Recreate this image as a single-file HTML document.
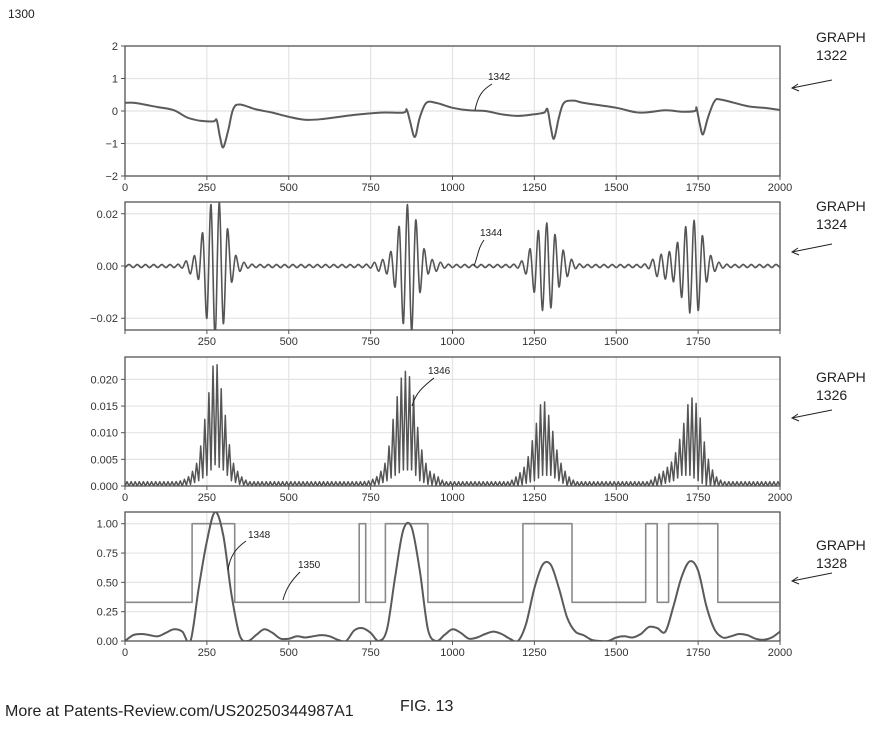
<!DOCTYPE html>
<html><head><meta charset="utf-8"><style>
body{margin:0;background:#fff;width:880px;height:727px;overflow:hidden;font-family:"Liberation Sans",sans-serif}
svg text{font-family:"Liberation Sans",sans-serif}
</style></head><body>
<svg id="fig" width="880" height="727"></svg>
<script>
// ---- data ----
const xTicks=[0,250,500,750,1000,1250,1500,1750,2000];
const p1X=[0,30,100,150,190,230,270,280,290,300,315,330,350,400,450,500,550,600,700,780,850,860,870,885,900,920,950,1000,1050,1100,1150,1200,1250,1280,1290,1300,1310,1325,1340,1370,1400,1500,1570,1650,1700,1740,1745,1755,1765,1780,1800,1820,1900,1950,2000];
const p1Y=[0.25,0.25,0.12,0.02,-0.2,-0.3,-0.32,-0.28,-0.8,-1.12,-0.6,0.05,0.2,0.05,-0.05,-0.18,-0.27,-0.25,-0.12,-0.05,-0.05,0.05,-0.3,-0.8,-0.2,0.25,0.25,0.1,0.02,0.0,-0.1,-0.15,-0.1,-0.05,0.05,-0.5,-0.85,-0.2,0.25,0.32,0.25,0.1,-0.05,0.02,-0.02,0.0,0.1,-0.4,-0.72,-0.2,0.3,0.35,0.15,0.1,0.03];
const p1Ticks=[2,1,0,-1,-2];
// panel 2 oscillation amplitude envelope, every 25 units
const p2Amp=[0.0006,0.0006,0.0006,0.0006,0.0006,0.0006,0.0006,0.0008,0.003,0.005,0.02,0.027,0.022,0.006,0.002,0.0008,0.0006,0.0006,0.0006,0.0006,0.0006,0.0006,0.0006,0.0006,0.0006,0.0006,0.0006,0.0006,0.0006,0.0006,0.0008,0.002,0.003,0.008,0.022,0.025,0.01,0.003,0.002,0.0008,0.0006,0.0006,0.0006,0.0006,0.0006,0.0006,0.0006,0.0006,0.0008,0.003,0.01,0.017,0.016,0.008,0.004,0.001,0.0006,0.0006,0.0006,0.0006,0.0006,0.0006,0.0006,0.0006,0.001,0.004,0.005,0.006,0.012,0.018,0.017,0.006,0.002,0.0008,0.0006,0.0006,0.0006,0.0006,0.0006,0.0006,0.0006];
const p2Ticks=[0.02,0,-0.02];
const p2TickLabels=["0.02","0.00","\u22120.02"];
// panel 3 upper/lower envelopes every 25 units
const p3Up=[0.0008,0.0008,0.0008,0.0008,0.0008,0.0008,0.0008,0.001,0.002,0.005,0.015,0.025,0.016,0.005,0.002,0.0008,0.0008,0.0008,0.0008,0.0008,0.0008,0.0008,0.0008,0.0008,0.0008,0.0008,0.0008,0.0008,0.0008,0.0008,0.001,0.002,0.005,0.015,0.022,0.02,0.008,0.003,0.002,0.0008,0.0008,0.0008,0.0008,0.0008,0.0008,0.0008,0.0008,0.0008,0.002,0.004,0.01,0.017,0.012,0.005,0.002,0.0008,0.0008,0.0008,0.0008,0.0008,0.0008,0.0008,0.0008,0.0008,0.0008,0.002,0.003,0.005,0.01,0.017,0.015,0.006,0.002,0.0008,0.0008,0.0008,0.0008,0.0008,0.0008,0.0008,0.0008];
const p3Low=[0,0,0,0,0,0,0,0,0.0003,0.001,0.002,0.004,0.003,0.001,0.0003,0,0,0,0,0,0,0,0,0,0,0,0,0,0,0,0,0.0003,0.001,0.002,0.003,0.003,0.001,0.0003,0,0,0,0,0,0,0,0,0,0,0,0.0005,0.001,0.002,0.002,0.001,0,0,0,0,0,0,0,0,0,0,0,0,0.0005,0.001,0.002,0.002,0.001,0,0,0,0,0,0,0,0,0,0];
const p3Ticks=[0.02,0.015,0.01,0.005,0];
const p3TickLabels=["0.020","0.015","0.010","0.005","0.000"];
// panel 4 smooth line every 25 units
const p4Line=[0.0,0.05,0.06,0.05,0.04,0.07,0.1,0.08,0.0,0.45,0.85,1.1,0.9,0.4,0.05,0.0,0.05,0.1,0.07,0.02,0.02,0.04,0.03,0.04,0.05,0.04,0.01,0.0,0.09,0.11,0.07,0.0,0.1,0.55,0.95,0.97,0.6,0.1,0.0,0.05,0.1,0.07,0.02,0.03,0.06,0.08,0.06,0.02,0.0,0.15,0.45,0.65,0.65,0.45,0.2,0.08,0.05,0.01,0.0,0.0,0.03,0.04,0.03,0.06,0.12,0.11,0.08,0.3,0.55,0.68,0.6,0.3,0.1,0.03,0.04,0.06,0.05,0.02,0.01,0.03,0.08];
const p4StepX=[0,205,335,715,735,795,925,1215,1365,1590,1625,1660,1810,2000];
const p4StepY=[0.33,1,0.33,1,0.33,1,0.33,1,0.33,1,0.33,1,0.33];
const p4Ticks=[1,0.75,0.5,0.25,0];
const p4TickLabels=["1.00","0.75","0.50","0.25","0.00"];

// ---- drawing ----
const NS="http://www.w3.org/2000/svg";
const svg=document.getElementById('fig');
function mk(tag,attrs,parent){const e=document.createElementNS(NS,tag);for(const k in attrs)e.setAttribute(k,attrs[k]);(parent||svg).appendChild(e);return e;}
const X0=125,X1=780;
const sx=v=>X0+(v/2000)*(X1-X0);
function interp(arr,x){const i=x/25;const a=Math.floor(i);const b=Math.min(a+1,arr.length-1);const t=i-a;return arr[a]*(1-t)+arr[b]*t;}

function panel(name,top,bot,ymin,ymax,yt,ytl,xtl){
  const g=mk('g',{});
  
  
  const sy=v=>bot-(v-ymin)/(ymax-ymin)*(bot-top);
  mk('rect',{x:X0,y:top,width:X1-X0,height:bot-top,fill:'#fff'},g);
  xTicks.forEach(t=>{mk('line',{x1:sx(t),x2:sx(t),y1:top,y2:bot,stroke:'#e4e4e4','stroke-width':1.2},g);});
  yt.forEach(t=>{mk('line',{x1:X0,x2:X1,y1:sy(t),y2:sy(t),stroke:'#e4e4e4','stroke-width':1.2},g);});
  mk('rect',{x:X0,y:top,width:X1-X0,height:bot-top,fill:'none',stroke:'#555','stroke-width':1.3},g);
  yt.forEach((t,i)=>{
    mk('line',{x1:X0-4,x2:X0,y1:sy(t),y2:sy(t),stroke:'#555'},g);
    const tx=mk('text',{x:X0-7,y:sy(t)+4,'text-anchor':'end','font-size':11,fill:'#333'},g);
    tx.textContent=ytl[i];
    
    
  });
  xTicks.forEach(t=>{
    mk('line',{x1:sx(t),x2:sx(t),y1:bot,y2:bot+4,stroke:'#555'},g);
    if(xtl.indexOf(t)<0)return;
    const tx=mk('text',{x:sx(t),y:bot+15,'text-anchor':'middle','font-size':11,fill:'#333'},g);
    tx.textContent=String(t);
    
    
  });
  const clip='c'+name;
  const cp=mk('clipPath',{id:clip},g);mk('rect',{x:X0,y:top,width:X1-X0,height:bot-top},cp);
  return {g,sy,clip};
}
function path(pts,p,stroke,w,name,smooth){
  let d;
  if(smooth){
    d='M'+pts[0][0].toFixed(1)+','+pts[0][1].toFixed(1);
    for(let i=0;i<pts.length-1;i++){
      const p0=pts[Math.max(i-1,0)],p1=pts[i],p2=pts[i+1],p3=pts[Math.min(i+2,pts.length-1)];
      const c1=[p1[0]+(p2[0]-p0[0])/6,p1[1]+(p2[1]-p0[1])/6],c2=[p2[0]-(p3[0]-p1[0])/6,p2[1]-(p3[1]-p1[1])/6];
      d+='C'+c1[0].toFixed(1)+','+c1[1].toFixed(1)+' '+c2[0].toFixed(1)+','+c2[1].toFixed(1)+' '+p2[0].toFixed(1)+','+p2[1].toFixed(1);
    }
  } else d='M'+pts.map(q=>q[0].toFixed(1)+','+q[1].toFixed(1)).join('L');
  const e=mk('path',{d:d,fill:'none',stroke:stroke,'stroke-width':w,'stroke-linejoin':'round','clip-path':'url(#'+p.clip+')'},p.g);
  
  
}
// panel 1
const P1=panel('graph-1322',46,176,-2,2,p1Ticks,["2","1","0","\u22121","\u22122"],xTicks);
path(p1X.map((x,i)=>[sx(x),P1.sy(p1Y[i])]),P1,'#5a5a5a',2,'signal-1342',true);
// panel 2
const P2=panel('graph-1324',202,330,-0.0245,0.0245,p2Ticks,p2TickLabels,[250,500,750,1000,1250,1500,1750]);
{const pts=[];for(let k=0;k<=160;k++){const x=k*12.5;const a=interp(p2Amp,x);pts.push([sx(x),P2.sy(k%2?a:-a)]);}path(pts,P2,'#555',1.6,'filtered-signal-1344',true);}
// panel 3
const P3=panel('graph-1326',357,486,0,0.0242,p3Ticks,p3TickLabels,xTicks);
{const pts=[];for(let k=0;k<=320;k++){const x=k*6.25;const v=k%2?interp(p3Up,x):interp(p3Low,x);pts.push([sx(x),P3.sy(v)]);}path(pts,P3,'#555',1.5,'energy-1346');}
// panel 4
const P4=panel('graph-1328',512,641,0,1.1,p4Ticks,p4TickLabels,xTicks);
{const pts=[];for(let i=0;i<p4StepY.length;i++){pts.push([sx(p4StepX[i]),P4.sy(p4StepY[i])]);pts.push([sx(p4StepX[i+1]),P4.sy(p4StepY[i])]);}path(pts,P4,'#8a8a8a',1.6,'step-1350');}
path(p4Line.map((v,i)=>[sx(i*25),P4.sy(v)]),P4,'#5a5a5a',2,'likelihood-1348',true);

// annotations
function label(txt,x,y,name,size){const t=mk('text',{x:x,y:y,'font-size':size||10,fill:'#222'});t.textContent=txt;return t;}
function lead(d,name){const e=mk('path',{d:d,fill:'none',stroke:'#222','stroke-width':1});}
label('1342',488,80,'label-1342');lead('M492,84 C482,90 478,96 475,110','leader-1342');
label('1344',480,236,'label-1344');lead('M484,240 C478,248 478,256 474,266','leader-1344');
label('1346',428,374,'label-1346');lead('M434,378 C424,386 416,392 412,406','leader-1346');
label('1348',248,538,'label-1348');lead('M246,541 C236,548 230,556 228,570','leader-1348');
label('1350',298,568,'label-1350');lead('M300,572 C292,580 286,588 283,600','leader-1350');
label('1300',8,18,'figure-number',12);
[['GRAPH','1322',42,60,88],['GRAPH','1324',211,229,252],['GRAPH','1326',382,400,418],['GRAPH','1328',550,568,581]].forEach(r=>{
  label(r[0],816,r[2],'graph-title-'+r[1],14);label(r[1],816,r[3],'graph-number-'+r[1],14);
  lead('M832,'+(r[4]-8)+' L792,'+r[4],'arrow-'+r[1]);
  lead('M798,'+(r[4]-4)+' L792,'+r[4]+' L799,'+(r[4]+3),'arrowhead-'+r[1]);
});
label('FIG. 13',400,711,'figure-caption',16);
label('More at Patents-Review.com/US20250344987A1',5,716,'source-note',16);
</script>
</body></html>
